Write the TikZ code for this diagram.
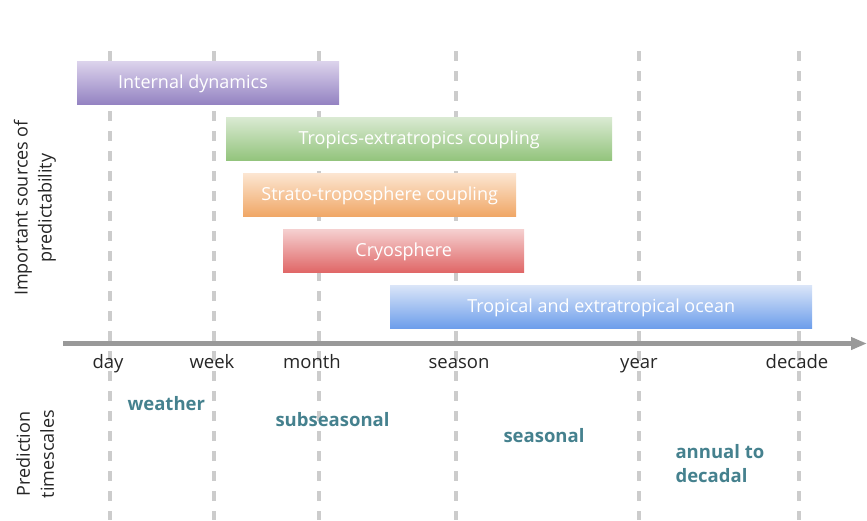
\documentclass[tikz,border=0pt]{standalone}
\usepackage{fontspec}
\setmainfont{Open Sans}
\usetikzlibrary{arrows.meta}

\definecolor{linegray}{HTML}{CCCCCC}
\definecolor{axisgray}{HTML}{999999}
\definecolor{scaleteal}{HTML}{45818E}
\definecolor{purpletop}{HTML}{DCD3EC}
\definecolor{purplebot}{HTML}{9483C2}
\definecolor{greentop}{HTML}{DAEAD3}
\definecolor{greenbot}{HTML}{93C47D}
\definecolor{orangetop}{HTML}{FCE6D2}
\definecolor{orangebot}{HTML}{F0A766}
\definecolor{redtop}{HTML}{F5D0D0}
\definecolor{redbot}{HTML}{E06767}
\definecolor{bluetop}{HTML}{DAE5F8}
\definecolor{bluebot}{HTML}{6D9EEB}

\tikzset{
  srcbox/.style={anchor=north west, inner sep=0pt, minimum height=43pt, text height=15pt, text depth=2.5pt, text=white, font=\fontsize{18}{22}\selectfont},
  srctext/.style={anchor=base, text=white, font=\fontsize{18}{22}\selectfont},
  ticklabel/.style={anchor=base, text=black!85, font=\fontsize{18.5}{22}\selectfont},
  scalelabel/.style={anchor=base west, text=scaleteal, font=\bfseries\fontsize{18.5}{24}\selectfont, align=left},
  sidelabel/.style={rotate=90, align=center, text=black!85, font=\fontsize{18}{24}\selectfont}
}

\begin{document}
\begin{tikzpicture}[x=1pt,y=-1pt]
\useasboundingbox (0,0) rectangle (867,520);

\foreach \x in {110,214,319,456,639,799}
  \draw[linegray, line width=3.3pt, dash pattern=on 10pt off 10pt] (\x,51) -- (\x,520);

\draw[axisgray, line width=5pt, -{Triangle[length=16pt,width=12pt]}] (63,343.5) -- (867,343.5);

\node[srcbox, minimum width=262pt, top color=purpletop, bottom color=purplebot] (internal) at (77,61) {};
\node[srctext] (internaltext) at (193,88) {Internal dynamics};
\node[srcbox, minimum width=386pt, top color=greentop, bottom color=greenbot] (tropics) at (226,117) {Tropics-extratropics coupling};
\node[srcbox, minimum width=273pt, top color=orangetop, bottom color=orangebot] (strato) at (243,173) {Strato-troposphere coupling};
\node[srcbox, minimum width=241pt, top color=redtop, bottom color=redbot] (cryo) at (283,229) {Cryosphere};
\node[srcbox, minimum width=422pt, top color=bluetop, bottom color=bluebot] (ocean) at (390,285) {Tropical and extratropical ocean};

\node[ticklabel] (day) at (108,368) {day};
\node[ticklabel] (week) at (212,368) {week};
\node[ticklabel] (month) at (312,368) {month};
\node[ticklabel] (season) at (459,368) {season};
\node[ticklabel] (year) at (639,368) {year};
\node[ticklabel] (decade) at (797,368) {decade};

\node[scalelabel] (weather) at (124,410) {weather};
\node[scalelabel] (subseasonal) at (272,426) {subseasonal};
\node[scalelabel] (seasonal) at (500,442) {seasonal};
\node[scalelabel] (annual) at (672,482) {annual to\\decadal};

\node[sidelabel] (sources) at (35,208) {Important sources of\\predictability};
\node[sidelabel] (timescales) at (35,454) {Prediction\\timescales};
\end{tikzpicture}
\end{document}
